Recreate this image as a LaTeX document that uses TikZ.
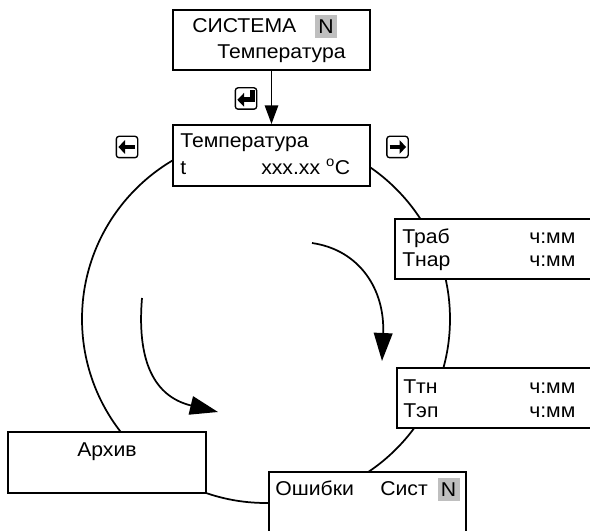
\documentclass[tikz,border=0pt]{standalone}
\usepackage{fontspec}
\setmainfont{Liberation Sans}[FakeStretch=1.06]
\usetikzlibrary{arrows.meta}
\tikzset{
  % Display panels
  panel/.style={rectangle, draw, line width=1.4pt, fill=white, inner sep=0pt},
  % Text lines on the panels
  txt/.style={anchor=base west, inner sep=0pt, font=\fontsize{15}{18}\selectfont},
  hl/.style={fill=black!25, inner sep=0pt, minimum width=16.5pt, minimum height=17pt, font=\fontsize{15}{18}\selectfont},
  % Keys
  keybox/.style={rectangle, draw, rounded corners=2pt, line width=1pt, minimum size=16pt, inner sep=0pt},
  keyarr/.style={line width=3.6pt, -{Triangle[length=5pt,width=10pt]}},
  % Arrows
  flow/.style={line width=1.3pt, -{Triangle[length=21pt,width=14pt]}},
  down/.style={line width=1.3pt, -{Triangle[length=14pt,width=10pt]}},
}

\begin{document}
\begin{tikzpicture}[x=0.75pt, y=-0.75pt]
  \useasboundingbox (0,0) rectangle (590,531);

  % --- MENU LOOP ---
  \coordinate (ctr) at (266,319);
  \draw[line width=1.3pt] (ctr) circle[radius=184];

  % --- SYSTEM MENU ---
  \node[panel, minimum width=147.75pt, minimum height=45pt] (sys) at (271.5,40) {};
  \node[txt] (sysA) at (192,33) {СИСТЕМА};
  \node[hl] (sysN) at (326,26.5) {N};
  \node[txt] (sysB) at (217,59) {Температура};

  % --- TEMPERATURE ---
  \node[panel, minimum width=147.75pt, minimum height=45.75pt] (temp) at (271.5,155.5) {};
  \node[txt] (tempA) at (180,148) {Температура};
  \node[txt] (tempB) at (180,175) {t};
  \node[txt] (tempC) at (261,175) {xxx.xx \raisebox{1pt}{\textsuperscript{o}}C};

  \draw[down] (sys.south) -- (temp.north);

  % --- OPERATING TIME ---
  \node[panel, minimum width=161.25pt, minimum height=45pt] (trab) at (502.5,249) {};
  \node[txt] (trabA) at (402,244) {Траб};
  \node[txt] (trabB) at (529,244) {ч:мм};
  \node[txt] (trabC) at (402,267) {Тнар};
  \node[txt] (trabD) at (529,267) {ч:мм};

  \node[panel, minimum width=159.75pt, minimum height=45pt] (ttn) at (503.5,398) {};
  \node[txt] (ttnA) at (403,393) {Ттн};
  \node[txt] (ttnB) at (529,393) {ч:мм};
  \node[txt] (ttnC) at (403,417) {Тэп};
  \node[txt] (ttnD) at (529,417) {ч:мм};

  % --- ERRORS AND ARCHIVE ---
  \node[panel, minimum width=147.75pt, minimum height=54.75pt] (err) at (367.5,508.5) {};
  \node[txt] (errA) at (275,495) {Ошибки};
  \node[txt] (errB) at (380,495) {Сист};
  \node[hl] (errN) at (448.5,489.5) {N};

  \node[panel, minimum width=148.5pt, minimum height=45.75pt] (arch) at (107,462.5) {};
  \node[txt, anchor=base] (archA) at (107,456) {Архив};

  % --- KEYS ---
  \node[keybox] (kent) at (246,98.5) {};
  \draw[keyarr] ([shift={(-3.5pt,-2.5pt)}]kent.north east) |- ([shift={(2pt,-1pt)}]kent.west);
  \node[keybox] (kleft) at (127,147) {};
  \draw[keyarr] ([xshift=-2.5pt]kleft.east) -- ([xshift=2pt]kleft.west);
  \node[keybox] (kright) at (397.5,147) {};
  \draw[keyarr] ([xshift=2.5pt]kright.west) -- ([xshift=-2pt]kright.east);

  % --- DIRECTION ARROWS ---
  \coordinate (l0) at (142,298);
  \coordinate (l1) at (218,412);
  \draw[flow] (l0) .. controls (136,370) and (160,398) .. (l1);
  \coordinate (r0) at (312,243);
  \coordinate (r1) at (382,361);
  \draw[flow] (r0) .. controls (360,250) and (385,290) .. (r1);

\end{tikzpicture}
\end{document}
